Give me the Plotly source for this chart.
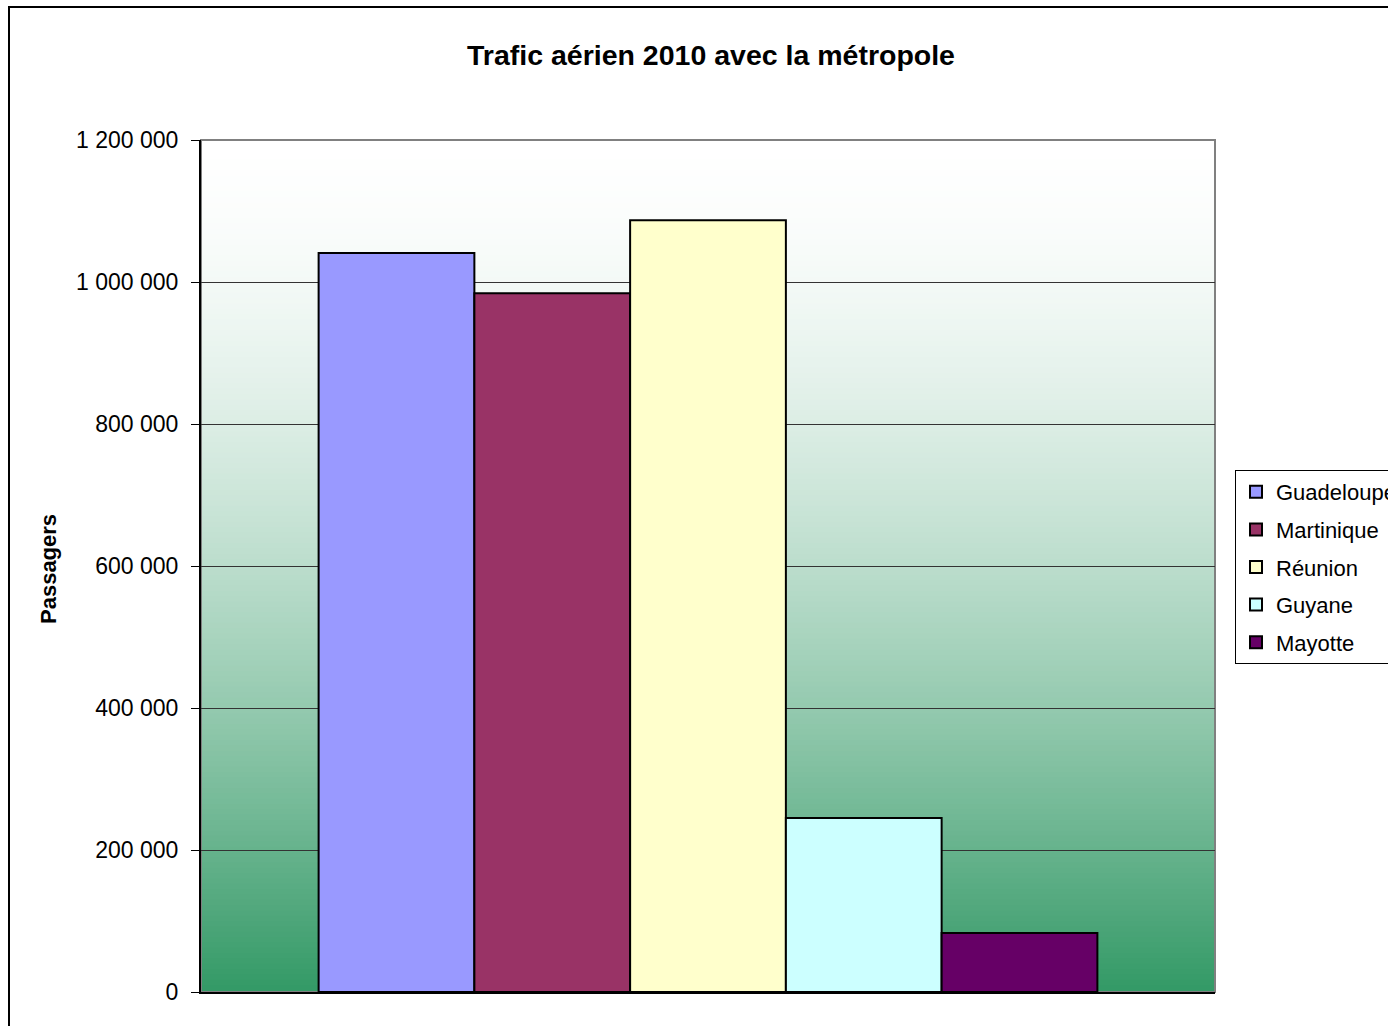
import plotly.graph_objects as go

# Data
series_names = ["Guadeloupe", "Martinique", "Réunion", "Guyane", "Mayotte"]
passengers = [1041000, 984000, 1087000, 245000, 83000]
bar_colors = ["#9999FF", "#993366", "#FFFFCC", "#CCFFFF", "#660066"]
category = ["2010"]
y_ticks = [0, 200000, 400000, 600000, 800000, 1000000, 1200000]

title_text = "Trafic aérien 2010 avec la métropole"
y_title = "Passagers"

W, H = 1388, 1026
L, R, T, B = 201, 1215, 140, 992

fig = go.Figure()
for i, (name, val, col) in enumerate(zip(series_names, passengers, bar_colors)):
    fig.add_trace(go.Bar(
        x=category, y=[val], name=name, legendgroup="g%d" % i,
        marker=dict(color=col, line=dict(color="#000000", width=2)),
    ))

# gradient background stripes (decoration)
shapes = []
n = 160
def lerp(a, b, t):
    return int(round(a + (b - a) * t))
top = (255, 255, 255)
bot = (0x33, 0x99, 0x66)
for i in range(n):
    y1 = 1 - i / n
    y0 = 1 - (i + 1) / n
    t = ((i + 0.5) / n) ** 1.6
    c = "rgb(%d,%d,%d)" % tuple(lerp(a, b, t) for a, b in zip(top, bot))
    shapes.append(dict(type="rect", xref="paper", yref="paper",
                       x0=0, x1=1, y0=y0, y1=y1 + 0.002,
                       fillcolor=c, line=dict(width=0), layer="below"))

# plot area border (gray top/right)
shapes.append(dict(type="rect", xref="paper", yref="paper", x0=0, x1=1, y0=0, y1=1,
                   line=dict(color="#808080", width=2), layer="below"))
# outer chart border
shapes.append(dict(type="rect", xref="paper", yref="paper",
                   x0=(9 - L) / (R - L), x1=2.0,
                   y0=-1.0, y1=(B - 7) / (B - T),
                   line=dict(color="#000000", width=2), fillcolor="rgba(0,0,0,0)",
                   layer="below"))

font_family = "Arial, Liberation Sans, sans-serif"

fig.update_layout(
    width=W, height=H,
    margin=dict(l=L, r=W - R, t=T, b=H - B, pad=0, autoexpand=False),
    paper_bgcolor="white",
    plot_bgcolor="rgba(0,0,0,0)",
    separators=", ",
    barmode="group",
    bargap=0.232,
    bargroupgap=0,
    font=dict(family=font_family, color="#000000"),
    title=dict(text="<b>" + title_text + "</b>", x=(711 - L) / (R - L), xref="paper",
               xanchor="center", y=1 - 55 / H, yref="container", yanchor="middle",
               font=dict(size=28.5, family=font_family, color="#000000")),
    showlegend=True,
    legend=dict(x=(1235 - L) / (R - L), y=(B - 470) / (B - T), xanchor="left", yanchor="top",
                bgcolor="white", bordercolor="#000000", borderwidth=1,
                font=dict(size=22, family=font_family, color="#000000"),
                traceorder="grouped", tracegroupgap=6),
    shapes=shapes,
    annotations=[dict(text="<b>" + y_title + "</b>", xref="paper", yref="paper",
                      x=(48 - L) / (R - L), y=(B - 569) / (B - T),
                      textangle=-90, showarrow=False, xanchor="center", yanchor="middle",
                      font=dict(size=22, family=font_family, color="#000000"))],
)

fig.update_xaxes(showticklabels=False, showgrid=False, zeroline=False,
                 showline=True, linecolor="#000000", linewidth=2, ticks="",
                 range=[-0.5, 0.5])
fig.update_yaxes(range=[0, 1200000], tickvals=y_ticks, tickformat=",d",
                 showgrid=True, gridcolor="#333333", gridwidth=1,
                 zeroline=False, showline=True, linecolor="#000000", linewidth=2,
                 ticks="outside", ticklen=8, tickcolor="#000000", tickwidth=1,
                 ticklabelstandoff=8,
                 tickfont=dict(size=23, family=font_family, color="#000000"))

fig.write_html("out.html")
